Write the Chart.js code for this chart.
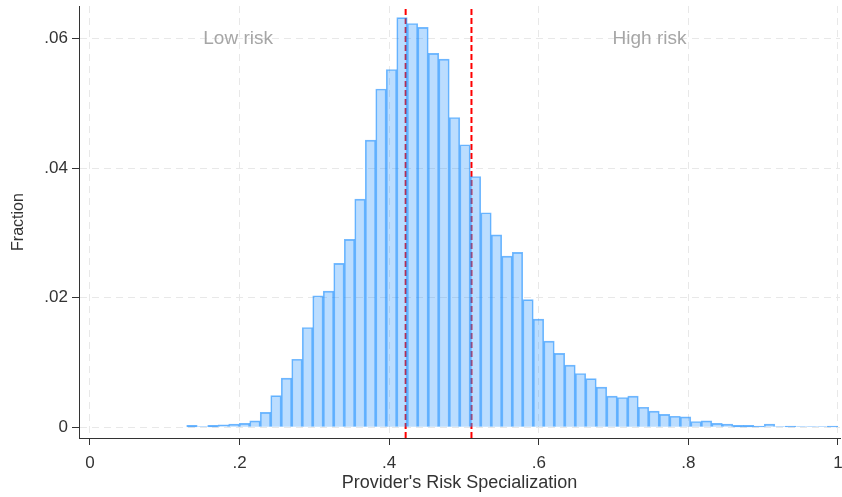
<!DOCTYPE html>
<html>
<head>
<meta charset="utf-8">
<script src="https://cdn.jsdelivr.net/npm/chart.js@4/dist/chart.umd.min.js"></script>
<style>
  html, body { margin: 0; padding: 0; background: #fff; }
  #wrap { width: 842px; height: 497px; }
</style>
</head>
<body>
<div id="wrap"><canvas id="hist"></canvas></div>
<script>
// histogram bins (Stata style: 62 equal-width bins)
const binStart = 0.1293;
const binWidth = 0.01404;
const fractions = [
    0.0003, 0.0001, 0.0003, 0.0004, 0.0005, 0.0006, 0.0010, 0.0023, 0.0049, 0.0076,
    0.0105, 0.0154, 0.0203, 0.0210, 0.0253, 0.0290, 0.0352, 0.0443, 0.0522, 0.0552,
    0.0632, 0.0623, 0.0617, 0.0577, 0.0568, 0.0478, 0.0436, 0.0387, 0.0331, 0.0297,
    0.0264, 0.0270, 0.0197, 0.0167, 0.0133, 0.0114, 0.0096, 0.0083, 0.0075, 0.0062,
    0.0048, 0.0046, 0.0048, 0.0031, 0.0025, 0.0020, 0.0017, 0.0016, 0.0009, 0.0010,
    0.0006, 0.0005, 0.0003, 0.0003, 0.0002, 0.0005, 0.0001, 0.0002, 0.0001, 0.0001,
    0.0001, 0.0002
];

// vertical reference lines (dashed red)
const refLines = [0.422, 0.510];

// axis ticks
const xTicks = [0, 0.2, 0.4, 0.6, 0.8, 1];
const yTicks = [0, 0.02, 0.04, 0.06];

// text labels inside the plot
const noteTexts = ['Low risk', 'High risk'];
const noteX = [0.198, 0.748];
const noteY = 0.06;

const xMin = -0.0147, xMax = 1.0027;
const yMin = -0.00165, yMax = 0.065;

const FONT = "'Liberation Sans', Arial, sans-serif";

function stataNum(v) {
    if (v === 0) return '0';
    return String(+v.toFixed(4)).replace(/^0\./, '.');
}

const histData = fractions.map((f, i) => ({ x: binStart + (i + 0.5) * binWidth, y: f }));

const refSets = refLines.map(v => ({
    type: 'line',
    data: [{ x: v, y: yMin }, { x: v, y: yMax }],
    borderColor: '#ff0000',
    borderWidth: 2,
    borderDash: [6, 3],
    pointRadius: 0,
    fill: false,
    order: 2
}));

// draws the "Low risk" / "High risk" notes
const notesPlugin = {
    id: 'notes',
    afterDatasetsDraw(chart) {
        const ctx = chart.ctx;
        const xs = chart.scales.x, ys = chart.scales.y;
        ctx.save();
        ctx.font = '19px ' + FONT;
        ctx.fillStyle = '#a6a6a6';
        ctx.textAlign = 'center';
        ctx.textBaseline = 'middle';
        noteTexts.forEach((t, i) => {
            ctx.fillText(t, xs.getPixelForValue(noteX[i]), ys.getPixelForValue(noteY));
        });
        ctx.restore();
    }
};

const histChart = new Chart(document.getElementById('hist'), {
    type: 'bar',
    data: {
        datasets: [{
            type: 'bar',
            data: histData,
            backgroundColor: 'rgba(30,144,255,0.30)',
            borderColor: 'rgba(30,144,255,0.62)',
            borderWidth: 1,
            barPercentage: 1,
            categoryPercentage: 1,
            grouped: false,
            order: 1
        }, ...refSets]
    },
    options: {
        responsive: true,
        maintainAspectRatio: false,
        animation: false,
        layout: { padding: { top: 6, right: 2, left: 0, bottom: 0 } },
        plugins: {
            legend: { display: false },
            tooltip: { enabled: false }
        },
        scales: {
            x: {
                type: 'linear',
                min: xMin,
                max: xMax,
                offset: false,
                afterBuildTicks: s => { s.ticks = xTicks.map(v => ({ value: v })); },
                afterFit: s => {
                    s.height = 59;
                    s.paddingLeft = 0;
                    s.paddingRight = 0;
                },
                ticks: {
                    autoSkip: false,
                    maxRotation: 0,
                    padding: 8,
                    color: '#333',
                    font: { family: FONT, size: 17 },
                    callback: v => stataNum(v)
                },
                grid: {
                    offset: false,
                    color: '#e8e8e8',
                    borderDash: [7, 5],
                    tickColor: '#333',
                    tickLength: 7,
                    tickWidth: 1,
                    tickBorderDash: []
                },
                border: { display: true, color: '#333', width: 1, dash: [7, 5] },
                title: {
                    display: true,
                    text: "Provider's Risk Specialization",
                    color: '#333',
                    font: { family: FONT, size: 18 },
                    padding: { top: 0, bottom: 3 }
                }
            },
            y: {
                type: 'linear',
                min: yMin,
                max: yMax,
                afterBuildTicks: s => { s.ticks = yTicks.map(v => ({ value: v })); },
                afterFit: s => {
                    s.width = 79;
                    s.paddingTop = 0;
                    s.paddingBottom = 0;
                },
                ticks: {
                    padding: 4,
                    color: '#333',
                    font: { family: FONT, size: 17 },
                    callback: v => stataNum(v)
                },
                grid: {
                    color: '#e8e8e8',
                    borderDash: [7, 5],
                    tickColor: '#333',
                    tickLength: 7,
                    tickWidth: 1,
                    tickBorderDash: []
                },
                border: { display: true, color: '#333', width: 1, dash: [7, 5] },
                title: {
                    display: true,
                    text: 'Fraction',
                    color: '#333',
                    font: { family: FONT, size: 16 },
                    padding: { top: 9, bottom: 0 }
                }
            }
        }
    },
    plugins: [notesPlugin]
});
</script>
</body>
</html>
